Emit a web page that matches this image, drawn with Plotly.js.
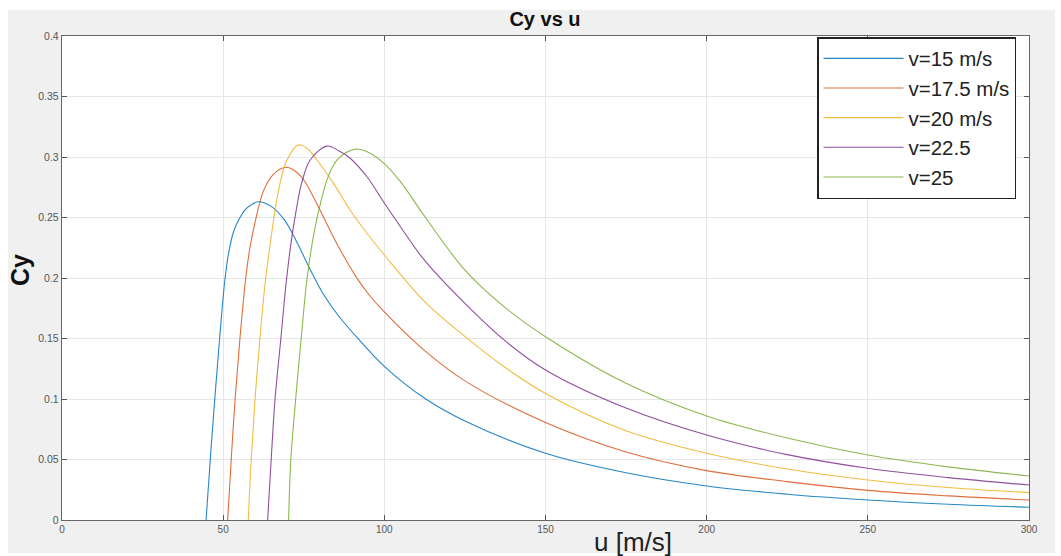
<!DOCTYPE html>
<html>
<head>
<meta charset="utf-8">
<script src="https://cdn.plot.ly/plotly-3.0.1.min.js"></script>
<style>html,body{margin:0;padding:0;background:#fff;}#chart{width:1061px;height:556px;}</style>
</head>
<body>
<div id="chart"></div>
<script>
// Series names
const seriesNames = ["v=15 m/s", "v=17.5 m/s", "v=20 m/s", "v=22.5", "v=25"];

// v = 15 m/s
const u15  = [44.7, 46.0, 47.4, 48.9, 50.6, 51.8, 53.2, 55.0, 57.0, 59.0, 61.0, 65, 69, 73, 77, 81, 86, 92.5, 100, 112.5, 125, 150, 175, 200, 225, 250, 275, 300];
const cy15 = [0, 0.05, 0.10, 0.15, 0.20, 0.222, 0.238, 0.249, 0.257, 0.261, 0.263, 0.259, 0.248, 0.229, 0.207, 0.187, 0.168, 0.148, 0.127, 0.1006, 0.0818, 0.0551, 0.039, 0.0281, 0.0213, 0.0165, 0.0130, 0.0105];

// v = 17.5 m/s
const u175  = [51.4, 52.5, 53.7, 55.2, 57.0, 58.3, 59.8, 62.5, 65.5, 69.4, 72, 75, 78, 81, 84, 87, 91, 95, 100, 112.5, 125, 150, 175, 200, 225, 250, 275, 300];
const cy175 = [0, 0.05, 0.10, 0.15, 0.20, 0.225, 0.245, 0.272, 0.2855, 0.2915, 0.289, 0.281, 0.267, 0.251, 0.235, 0.220, 0.202, 0.187, 0.172, 0.140, 0.115, 0.0805, 0.0562, 0.0408, 0.0317, 0.0245, 0.0199, 0.0165];

// v = 20 m/s
const u20  = [57.8, 58.7, 59.9, 61.4, 63.0, 64.8, 67.0, 69.8, 73.4, 76.5, 79.1, 84.3, 89.4, 94.6, 100, 112.5, 125, 137.5, 150, 175, 200, 225, 250, 275, 300];
const cy20 = [0, 0.05, 0.10, 0.15, 0.195, 0.232, 0.27, 0.2975, 0.31, 0.306, 0.2975, 0.278, 0.256, 0.237, 0.219, 0.1805, 0.1517, 0.126, 0.1045, 0.0737, 0.0551, 0.0421, 0.0331, 0.0268, 0.0226];

// v = 22.5
const u225  = [63.8, 64.9, 66.1, 67.9, 69.5, 71.0, 72.4, 74.4, 77, 82.2, 86, 89.4, 94.6, 100, 105, 112.5, 125, 137.5, 150, 175, 200, 225, 250, 275, 300];
const cy225 = [0, 0.05, 0.10, 0.15, 0.195, 0.228, 0.252, 0.279, 0.2975, 0.309, 0.305, 0.299, 0.2837, 0.262, 0.2424, 0.2145, 0.179, 0.148, 0.124, 0.0925, 0.0702, 0.054, 0.0427, 0.035, 0.0289];

// v = 25
const u25  = [70.3, 71.0, 72.5, 74.2, 76.0, 78.3, 80.3, 82.6, 85.5, 91, 95, 99.8, 105, 112.5, 125, 137.5, 150, 175, 200, 225, 250, 275, 300];
const cy25 = [0, 0.05, 0.10, 0.15, 0.199, 0.239, 0.263, 0.284, 0.298, 0.3065, 0.304, 0.295, 0.2796, 0.251, 0.2065, 0.1755, 0.1515, 0.113, 0.086, 0.0677, 0.0537, 0.0439, 0.0364];

const colors = ["#0072BD", "#D95319", "#EDB120", "#7E2F8E", "#77AC30"];
const xs = [u15, u175, u20, u225, u25];
const ys = [cy15, cy175, cy20, cy225, cy25];

const traces = xs.map((x, i) => ({
  x: x, y: ys[i], type: "scatter", mode: "lines", name: seriesNames[i],
  legendgroup: "g" + i, opacity: 0.85,
  line: {color: colors[i], width: 1.1, shape: "spline", smoothing: 1}
}));

const W = 1061, H = 556, L = 62, R = 32, T = 36, B = 36;
const pw = W - L - R, ph = H - T - B;
const px2x = p => (p - L) / pw;
const py2y = p => (H - B - p) / ph;

const layout = {
  width: W, height: H,
  margin: {l: L, r: R, t: T, b: B, pad: 0},
  paper_bgcolor: "#ffffff",
  plot_bgcolor: "#ffffff",
  font: {family: "Liberation Sans, Arial, sans-serif", color: "#333"},
  title: {text: "<b>Cy vs u</b>", x: px2x(545), xref: "paper", xanchor: "center",
          y: 1 - 19 / H, yanchor: "middle", font: {size: 20, color: "#111"}},
  showlegend: true,
  legend: {x: px2x(817), y: py2y(37), xanchor: "left", yanchor: "top",
           bgcolor: "#ffffff", bordercolor: "#222", borderwidth: 1.5,
           font: {size: 20.5, color: "#222"}, traceorder: "grouped", tracegroupgap: 0,
           itemwidth: 80},
  xaxis: {range: [0, 300], dtick: 50, tick0: 0, ticks: "inside", ticklen: 5, tickcolor: "#555",
          mirror: "allticks", showline: true, linecolor: "#666", linewidth: 1.2,
          showgrid: true, gridcolor: "#e6e6e6", zeroline: false,
          tickfont: {family: "Liberation Sans Narrow, Liberation Sans, Arial", size: 10, color: "#555"}},
  yaxis: {range: [0, 0.4], dtick: 0.05, tick0: 0, ticks: "inside", ticklen: 5, tickcolor: "#555",
          mirror: "allticks", showline: true, linecolor: "#666", linewidth: 1.2,
          showgrid: true, gridcolor: "#e6e6e6", zeroline: false,
          tickfont: {size: 10.5, color: "#555"}},
  shapes: [
    {type: "rect", xref: "paper", yref: "paper", layer: "below",
     x0: px2x(8), x1: px2x(1055), y0: py2y(553), y1: py2y(10),
     fillcolor: "#f0f0f0", line: {width: 0}},
    {type: "rect", xref: "x", yref: "y", layer: "below",
     x0: 0, x1: 300, y0: 0, y1: 0.4, fillcolor: "#ffffff", line: {width: 0}}
  ],
  annotations: [
    {text: "u [m/s]", xref: "paper", yref: "paper", x: px2x(633), y: py2y(542),
     xanchor: "center", yanchor: "middle", showarrow: false,
     font: {size: 26, color: "#222"}},
    {text: "<b>Cy</b>", xref: "paper", yref: "paper", x: px2x(20), y: py2y(270),
     xanchor: "center", yanchor: "middle", showarrow: false, textangle: -90,
     font: {size: 25, color: "#111"}}
  ]
};

Plotly.newPlot("chart", traces, layout, {displayModeBar: false, staticPlot: true});
</script>
</body>
</html>
